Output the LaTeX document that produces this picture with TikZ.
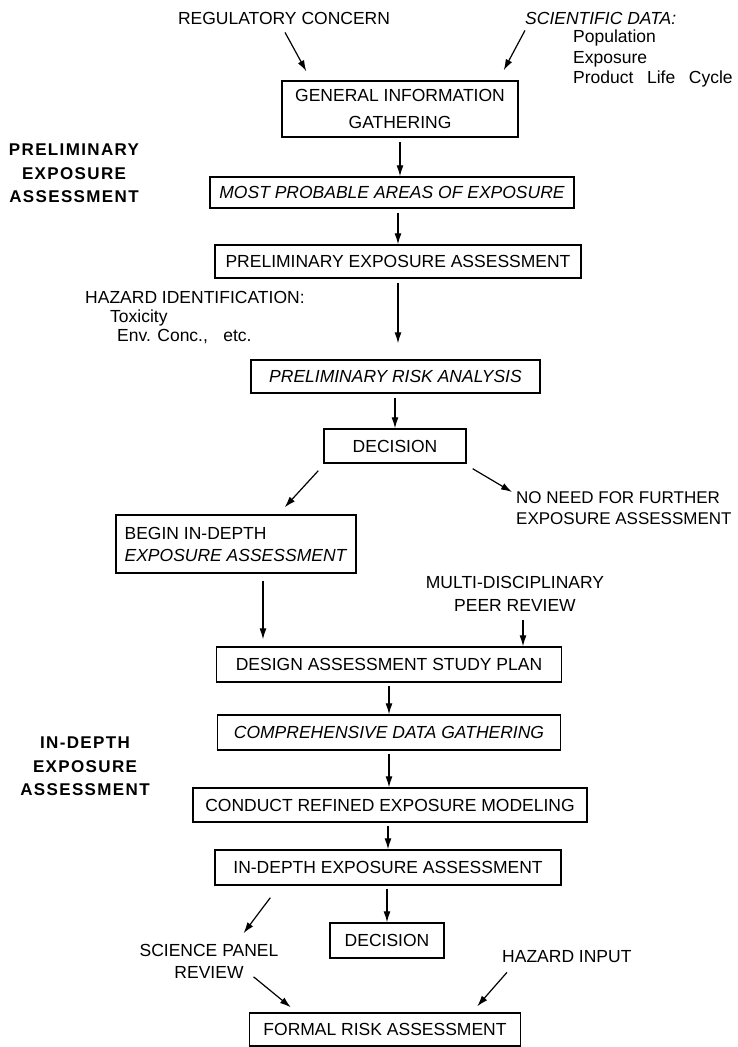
\documentclass[tikz,border=0pt]{standalone}
\usepackage{fontspec}
\setmainfont{Liberation Sans}
\newfontfamily\phasefont{Liberation Sans}[LetterSpace=8]
\usetikzlibrary{arrows.meta}

\newcommand\flowsize{\fontsize{17.5}{22}\selectfont}

\begin{document}
\begin{tikzpicture}[x=1pt, y=-1pt,
    font=\flowsize,
    stage/.style={draw, line width=1.4pt, inner sep=0pt, align=center},
    slanted/.style={font=\flowsize\itshape},
    flow/.style={line width=1.2pt, -{Latex[length=11pt, width=7pt]}},
    phase/.style={font=\phasefont\fontsize{17}{23.5}\selectfont\bfseries, align=center, inner sep=0pt},
    txt/.style={inner sep=0pt, align=center}]
    \path[fill=white, use as bounding box] (0,0) rectangle (737,1047);

    % Inputs at the top
    \node[txt] (reg) at (284,18) {REGULATORY CONCERN};
    \node[txt, slanted, anchor=west] (sci) at (525,18) {SCIENTIFIC DATA:};
    \node[txt, anchor=north west, align=left, font=\fontsize{17.5}{20.5}\selectfont] (scidata) at (573,30)
        {Population\\Exposure\\Product\hspace{.5em} Life\hspace{.5em} Cycle};

    % Preliminary exposure assessment
    \node[phase, anchor=north] (phaseA) at (74,144) {PRELIMINARY\\EXPOSURE\\ASSESSMENT};
    \node[stage, minimum width=236pt, minimum height=56pt] (gather) at (400,109) {GENERAL INFORMATION\\[5pt]GATHERING};
    \node[stage, slanted, minimum width=364pt, minimum height=31pt] (areas) at (392,192.5) {MOST PROBABLE AREAS OF EXPOSURE};
    \node[stage, minimum width=366pt, minimum height=33pt] (prelim) at (398,261.5) {PRELIMINARY EXPOSURE ASSESSMENT};
    \node[txt, anchor=west] (hazard) at (85,297) {HAZARD IDENTIFICATION:};
    \node[txt, anchor=west] (toxic) at (110,318) {Toxicity};
    \node[txt, anchor=west] (envconc) at (117,337) {Env. Conc.,\hspace{.6em} etc.};
    \node[stage, slanted, minimum width=289pt, minimum height=33pt] (risk) at (395.5,376.5) {PRELIMINARY RISK ANALYSIS};
    \node[stage, minimum width=142pt, minimum height=34pt] (decide) at (395,446) {DECISION};
    \node[txt, anchor=north west, align=left, font=\fontsize{17}{21}\selectfont] (noneed) at (516,491)
        {NO NEED FOR FURTHER\\EXPOSURE ASSESSMENT};

    % In-depth exposure assessment
    \node[stage, align=left, minimum width=240pt, minimum height=58pt] (begin) at (236,544)
        {BEGIN IN-DEPTH\\\textit{EXPOSURE ASSESSMENT}};
    \node[txt, font=\fontsize{17.5}{23}\selectfont] (peer) at (515,593.5) {MULTI-DISCIPLINARY\\PEER REVIEW};
    \node[phase, anchor=north] (phaseB) at (85,737) {IN-DEPTH\\EXPOSURE\\ASSESSMENT};
    \node[stage, minimum width=345pt, minimum height=35pt] (plan) at (389,664.5) {DESIGN ASSESSMENT STUDY PLAN};
    \node[stage, slanted, minimum width=343pt, minimum height=35pt] (survey) at (389,732.5) {COMPREHENSIVE DATA GATHERING};
    \node[stage, minimum width=394pt, minimum height=34pt] (model) at (390,805) {CONDUCT REFINED EXPOSURE MODELING};
    \node[stage, minimum width=346pt, minimum height=35pt] (indepth) at (388,867.5) {IN-DEPTH EXPOSURE ASSESSMENT};
    \node[stage, minimum width=114pt, minimum height=35pt] (decide2) at (387,940.5) {DECISION};

    % Formal risk assessment
    \node[txt] (panel) at (209,961.5) {SCIENCE PANEL\\REVIEW};
    \node[txt, anchor=west] (hazin) at (502,957) {HAZARD INPUT};
    \node[stage, minimum width=271pt, minimum height=33pt] (formal) at (385,1029.5) {FORMAL RISK ASSESSMENT};

    % Connectors
    \draw[flow] ([shift={(1,8)}]reg.south) -- ([shift={(25,-9)}]gather.north west);
    \draw[flow] ([shift={(0,6)}]sci.south west) -- ([shift={(-15,-10)}]gather.north east);
    \draw[flow, shorten <=4pt] (gather.south) -- (gather.south |- areas.north);
    \draw[flow, shorten <=4pt] (prelim.north |- areas.south) -- (prelim.north);
    \draw[flow, shorten <=4pt, shorten >=16pt] (prelim.south) -- (prelim.south |- risk.north);
    \draw[flow, shorten <=4pt] (decide.north |- risk.south) -- (decide.north);
    \draw[flow] ([shift={(-5,7)}]decide.south west) -- ([shift={(-72,-7)}]begin.north east);
    \draw[flow] ([shift={(6,5)}]decide.south east) -- ([shift={(-4,1)}]noneed.north west);
    \draw[flow, shorten <=7pt, shorten >=7pt] ([xshift=27pt]begin.south) -- ([xshift=27pt]begin.south |- plan.north);
    \draw[flow, shorten <=9pt] ([xshift=8pt]peer.south) -- ([xshift=8pt]peer.south |- plan.north);
    \draw[flow, shorten <=3pt] (plan.south) -- (plan.south |- survey.north);
    \draw[flow, shorten <=3pt] (survey.south) -- (survey.south |- model.north);
    \draw[flow, shorten <=3pt] (indepth.north |- model.south) -- (indepth.north);
    \draw[flow, shorten <=3pt] (decide2.north |- indepth.south) -- (decide2.north);
    \draw[flow] ([shift={(56,12)}]indepth.south west) -- ([shift={(-35,-11)}]panel.north east);
    \draw[flow] ([shift={(-25,-2)}]panel.south east) -- ([shift={(42,-5)}]formal.north west);
    \draw[flow] ([shift={(5,9)}]hazin.south west) -- ([shift={(-44,-6)}]formal.north east);
\end{tikzpicture}
\end{document}
